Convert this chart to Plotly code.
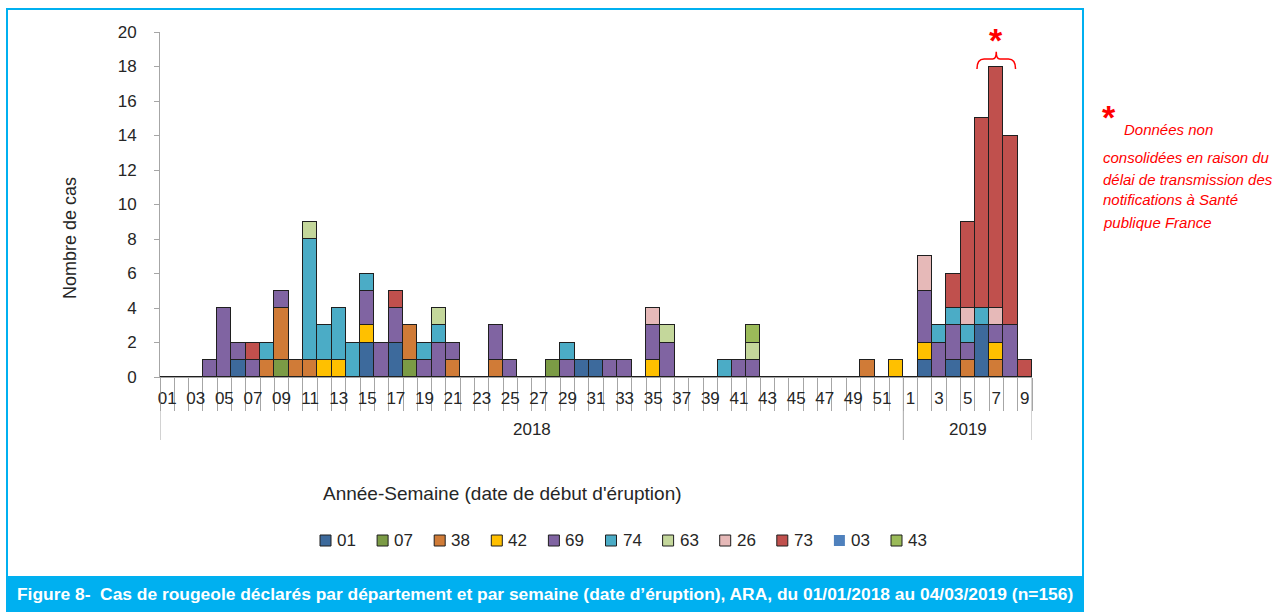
import plotly.graph_objects as go

W, H = 1276, 612

# ---------------- data ----------------
weeks_2018 = [f"{w:02d}" for w in range(1, 53)]
weeks_2019 = [str(w) for w in range(1, 10)]
categories = [f"2018-{w}" for w in weeks_2018] + [f"2019-{w}" for w in weeks_2019]

# counts per week: 2018 weeks 1..52 (groups of 10), then 2019 weeks 1..9
d01 = [0,0,0,0,0,1,0,0,0,0, 0,0,0,0,2,0,2,0,0,0, 0,0,0,0,0,0,0,0,0,1, 1,0,0,0,0,0,0,0,0,0, 0,0,0,0,0,0,0,0,0,0, 0,0,
       0,1,0,1,0,3,0,0,0]
d07 = [0,0,0,0,0,0,0,0,1,0, 0,0,0,0,0,0,0,1,0,0, 0,0,0,0,0,0,0,1,0,0, 0,0,0,0,0,0,0,0,0,0, 0,0,0,0,0,0,0,0,0,0, 0,0,
       0,0,0,0,0,0,0,0,0]
d38 = [0,0,0,0,0,0,0,1,3,1, 1,0,0,0,0,0,0,2,0,0, 1,0,0,1,0,0,0,0,0,0, 0,0,0,0,0,0,0,0,0,0, 0,0,0,0,0,0,0,0,0,1, 0,0,
       0,0,0,0,1,0,1,0,0]
d42 = [0,0,0,0,0,0,0,0,0,0, 0,1,1,0,1,0,0,0,0,0, 0,0,0,0,0,0,0,0,0,0, 0,0,0,0,1,0,0,0,0,0, 0,0,0,0,0,0,0,0,0,0, 0,1,
       0,1,0,0,0,0,1,0,0]
d69 = [0,0,0,1,4,1,1,0,1,0, 0,0,0,0,2,2,2,0,1,2, 1,0,0,2,1,0,0,0,1,0, 0,1,1,0,2,2,0,0,0,0, 1,1,0,0,0,0,0,0,0,0, 0,0,
       0,3,2,2,1,0,1,3,0]
d74 = [0,0,0,0,0,0,0,1,0,0, 7,2,3,2,1,0,0,0,1,1, 0,0,0,0,0,0,0,0,1,0, 0,0,0,0,0,0,0,0,0,1, 0,0,0,0,0,0,0,0,0,0, 0,0,
       0,0,1,1,1,1,0,0,0]
d63 = [0,0,0,0,0,0,0,0,0,0, 1,0,0,0,0,0,0,0,0,1, 0,0,0,0,0,0,0,0,0,0, 0,0,0,0,0,1,0,0,0,0, 0,1,0,0,0,0,0,0,0,0, 0,0,
       0,0,0,0,0,0,0,0,0]
d26 = [0,0,0,0,0,0,0,0,0,0, 0,0,0,0,0,0,0,0,0,0, 0,0,0,0,0,0,0,0,0,0, 0,0,0,0,1,0,0,0,0,0, 0,0,0,0,0,0,0,0,0,0, 0,0,
       0,2,0,0,1,0,1,0,0]
d73 = [0,0,0,0,0,0,1,0,0,0, 0,0,0,0,0,0,1,0,0,0, 0,0,0,0,0,0,0,0,0,0, 0,0,0,0,0,0,0,0,0,0, 0,0,0,0,0,0,0,0,0,0, 0,0,
       0,0,0,2,5,11,14,11,1]
d03 = [0] * 61
d43 = [0,0,0,0,0,0,0,0,0,0, 0,0,0,0,0,0,0,0,0,0, 0,0,0,0,0,0,0,0,0,0, 0,0,0,0,0,0,0,0,0,0, 0,1,0,0,0,0,0,0,0,0, 0,0,
       0,0,0,0,0,0,0,0,0]

departments = ["01", "07", "38", "42", "69", "74", "63", "26", "73", "03", "43"]
series = [d01, d07, d38, d42, d69, d74, d63, d26, d73, d03, d43]
colors = ["#3D6A9C", "#7B9B45", "#D07B37", "#FFC000", "#8064A2", "#4BACC6",
          "#C4D79B", "#E6B9B8", "#C0504D", "#4F81BD", "#9BBB59"]

tick_labels = weeks_2018[0::2] + weeks_2019[0::2]
tick_positions = list(range(0, 52, 2)) + list(range(52, 61, 2))

years = ["2018", "2019"]

# ---------------- helpers (pixel -> paper) ----------------
def px(x):
    return x / W

def py(y):
    return 1 - y / H

FONT = "Liberation Sans, Arial, sans-serif"
TXT = "#262626"
AX = "#A6A6A6"

x = list(range(len(categories)))

fig = go.Figure()
for name, vals, col in zip(departments, series, colors):
    fig.add_trace(go.Bar(
        x=x, y=vals, name=name, customdata=categories,
        marker=dict(color=col, line=dict(color="#1F1F1F", width=0 if name == "03" else 1)),
        hovertemplate="%{customdata}: %{y}<extra>" + name + "</extra>",
    ))

fig.update_layout(
    width=W, height=H, margin=dict(l=0, r=0, t=0, b=0, autoexpand=False),
    paper_bgcolor="white", plot_bgcolor="white",
    barmode="stack", bargap=0,
    font=dict(family=FONT, size=17, color=TXT),
    showlegend=False,
    xaxis=dict(domain=[px(160), px(1032)], range=[-0.5, 60.5], showgrid=False, zeroline=False,
               automargin=False, fixedrange=True,
               showline=True, linecolor=AX, linewidth=1,
               tickmode="array", tickvals=tick_positions, ticktext=tick_labels, ticks="",
               ticklabelstandoff=6, tickfont=dict(size=17, color=TXT),
               minor=dict(ticks="outside", ticklen=33, tickcolor=AX, tickwidth=1,
                          tickmode="linear", tick0=0.5, dtick=1, showgrid=False)),
    yaxis=dict(domain=[py(377), py(32)], range=[0, 20], showgrid=False, zeroline=False,
               automargin=False, fixedrange=True,
               showline=True, linecolor=AX, linewidth=1,
               tickmode="linear", tick0=0, dtick=2, ticks="outside", ticklen=5, tickcolor=AX,
               ticklabelstandoff=14, tickfont=dict(size=17, color=TXT)),
)

shapes = []
ann = []
# year separators
for xv in [-0.5, 51.5, 60.5]:
    shapes.append(dict(type="line", xref="x", yref="paper", x0=xv, x1=xv, y0=py(377), y1=py(440),
                       line=dict(color=AX, width=1)))
# brace over the last weeks
shapes.append(dict(type="path", xref="x", yref="y", layer="above",
                   path="M 56.65,17.85 Q 56.65,18.43 57.15,18.43 L 57.75,18.43 Q 58,18.43 58,18.85 "
                        "Q 58,18.43 58.25,18.43 L 58.85,18.43 Q 59.35,18.43 59.35,17.85",
                   line=dict(color="#FF0000", width=1.5)))
# outer frame
shapes.append(dict(type="rect", xref="paper", yref="paper", x0=px(7), x1=px(1083), y0=py(577), y1=py(9),
                   line=dict(color="#00B0F0", width=2)))
# title bar
shapes.append(dict(type="rect", xref="paper", yref="paper", x0=px(6), x1=px(1084), y0=0, y1=py(577),
                   fillcolor="#00B0F0", line=dict(width=0)))

# custom legend (square + label), Excel style
LEG_X0, LEG_PITCH, LEG_Y = 320, 57.1, 540.5
for i, (name, col) in enumerate(zip(departments, colors)):
    lx = LEG_X0 + LEG_PITCH * i
    shapes.append(dict(type="rect", xref="paper", yref="paper",
                       x0=px(lx), x1=px(lx + 11), y0=py(LEG_Y + 5.5), y1=py(LEG_Y - 5.5),
                       fillcolor=col,
                       line=dict(color="#1F1F1F", width=0 if name == "03" else 1)))
    ann.append(dict(x=px(lx + 15), y=py(LEG_Y), xref="paper", yref="paper", xanchor="left",
                    yanchor="middle", text=name, showarrow=False,
                    font=dict(size=17, color=TXT)))
fig.update_layout(shapes=shapes)

ann.append(dict(x=25.5, xref="x", y=py(430), yref="paper", xanchor="center", yanchor="middle",
                text=years[0], showarrow=False, font=dict(size=17, color=TXT)))
ann.append(dict(x=56, xref="x", y=py(430), yref="paper", xanchor="center", yanchor="middle",
                text=years[1], showarrow=False, font=dict(size=17, color=TXT)))
ann.append(dict(x=px(502), y=py(493), xref="paper", yref="paper", xanchor="center", yanchor="middle",
                text="Année-Semaine (date de début d'éruption)", showarrow=False,
                font=dict(size=19, color=TXT)))
ann.append(dict(x=px(70), y=py(238), xref="paper", yref="paper", xanchor="center", yanchor="middle",
                text="Nombre de cas", textangle=-90, showarrow=False, font=dict(size=18, color=TXT)))
ann.append(dict(x=58, xref="x", y=19.55, yref="y", xanchor="center", yanchor="middle",
                text="<b>*</b>", showarrow=False, font=dict(size=34, color="#FF0000")))
# side note
ann.append(dict(x=px(1109), y=py(117), xref="paper", yref="paper", xanchor="center", yanchor="middle",
                text="<b>*</b>", showarrow=False, font=dict(size=34, color="#FF0000")))
note_lines = [("<i>Données non</i>", 1122, 129),
              ("<i>consolidées en raison du</i>", 1101, 157),
              ("<i>délai de transmission des</i>", 1101, 179),
              ("<i>notifications à Santé</i>", 1101, 200),
              ("<i>publique France</i>", 1101, 222)]
for t, xx, yy in note_lines:
    ann.append(dict(x=px(xx), y=py(yy), xref="paper", yref="paper", xanchor="left", yanchor="middle",
                    text=t, showarrow=False, font=dict(size=15, color="#FF0000")))
# title
ann.append(dict(x=px(545), y=py(594), xref="paper", yref="paper", xanchor="center", yanchor="middle",
                text="<b>Figure 8-  Cas de rougeole déclarés par département et par semaine (date d’éruption), ARA, du 01/01/2018 au 04/03/2019 (n=156)</b>",
                showarrow=False,
                font=dict(family="Liberation Sans, Arial", size=17.4, color="white")))
fig.update_layout(annotations=ann)

fig.write_html("out.html", config={"displayModeBar": False},
               post_script="document.body.style.margin='0';document.body.style.overflow='hidden';")
